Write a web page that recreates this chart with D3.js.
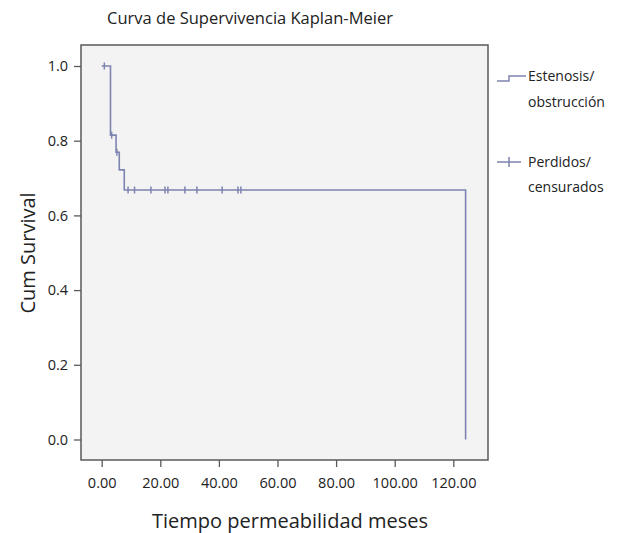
<!DOCTYPE html>
<html><head><meta charset="utf-8">
<script src="https://cdn.jsdelivr.net/npm/d3@7"></script>
<style>body{margin:0;background:#fff;} text{font-family:"Open Sans","Noto Sans",sans-serif;fill:#222;}</style>
</head><body><svg id="c" width="627" height="533"></svg>
<script>
const stepTimes = [0, 3.0, 4.9, 6.0, 7.7, 124.2];
const stepSurv  = [1.0, 0.815, 0.769, 0.722, 0.668, 0.0];
const censorTimes = [0.9, 3.4, 5.2, 9.0, 11.2, 16.8, 21.6, 22.6, 28.4, 32.5, 41.1, 46.5, 47.5];
const xTicks = [0, 20, 40, 60, 80, 100, 120];
const yTicks = [0.0, 0.2, 0.4, 0.6, 0.8, 1.0];
const legendLabels = [["Estenosis/", "obstrucción"], ["Perdidos/", "censurados"]];

const svg = d3.select("#c");
const L = 81, R = 488, T = 45, B = 460;
const x = d3.scaleLinear().domain([0, 120]).range([101.7, 453.3]);
const y = d3.scaleLinear().domain([0, 1]).range([439.5, 66]);
const col = "#7d84b0";

svg.append("rect").attr("x", L).attr("y", T).attr("width", R - L).attr("height", B - T)
  .attr("fill", "#f3f3f3").attr("stroke", "#5a5a5a").attr("stroke-width", 1.5);

// axes
const xa = svg.append("g").attr("transform", `translate(0,${B})`)
  .call(d3.axisBottom(x).tickValues(xTicks).tickFormat(d3.format(".2f")).tickSize(7).tickSizeOuter(0));
xa.select(".domain").remove();
xa.selectAll("line").attr("stroke", "#5a5a5a").attr("stroke-width", 1.3);
xa.selectAll("text").attr("font-size", 14.5).attr("dy", "1.25em").attr("fill", "#222");

const ya = svg.append("g").attr("transform", `translate(${L},0)`)
  .call(d3.axisLeft(y).tickValues(yTicks).tickFormat(d3.format(".1f")).tickSize(7).tickSizeOuter(0));
ya.select(".domain").remove();
ya.selectAll("line").attr("stroke", "#5a5a5a").attr("stroke-width", 1.3);
ya.selectAll("text").attr("font-size", 14.5).attr("dx", "-0.2em").attr("fill", "#222");

// survival step curve
const pts = stepTimes.map((t, i) => [t, stepSurv[i]]);
const line = d3.line().x(d => x(d[0])).y(d => y(d[1])).curve(d3.curveStepAfter);
svg.append("path").datum(pts).attr("d", line).attr("fill", "none")
  .attr("stroke", col).attr("stroke-width", 1.6);

// censor marks
function survAt(t) {
  let s = 1;
  stepTimes.forEach((st, i) => { if (st <= t) s = stepSurv[i]; });
  return s;
}
svg.selectAll(".cen").data(censorTimes).join("line").attr("class", "cen")
  .attr("x1", d => x(d)).attr("x2", d => x(d))
  .attr("y1", d => y(survAt(d)) - 3.5).attr("y2", d => y(survAt(d)) + 3.5)
  .attr("stroke", col).attr("stroke-width", 1.5);

// titles
svg.append("text").attr("x", 250).attr("y", 24).attr("text-anchor", "middle")
  .attr("font-size", 16.5).text("Curva de Supervivencia Kaplan-Meier");
svg.append("text").attr("x", 290).attr("y", 528).attr("text-anchor", "middle")
  .attr("font-size", 20).text("Tiempo permeabilidad meses");
svg.append("text").attr("transform", "translate(35,253) rotate(-90)").attr("text-anchor", "middle")
  .attr("font-size", 20).text("Cum Survival");

// legend
const lg = svg.append("g");
lg.append("path").attr("d", "M497,81H509V76H526").attr("fill", "none").attr("stroke", col).attr("stroke-width", 1.5);
lg.append("path").attr("d", "M497,162H521M509,157V167").attr("fill", "none").attr("stroke", col).attr("stroke-width", 1.5);
const ly = [[81, 107], [167, 192]];
legendLabels.forEach((lines, i) => {
  lines.forEach((t, j) => {
    lg.append("text").attr("x", 528).attr("y", ly[i][j]).attr("font-size", 14).text(t);
  });
});
</script></body></html>
